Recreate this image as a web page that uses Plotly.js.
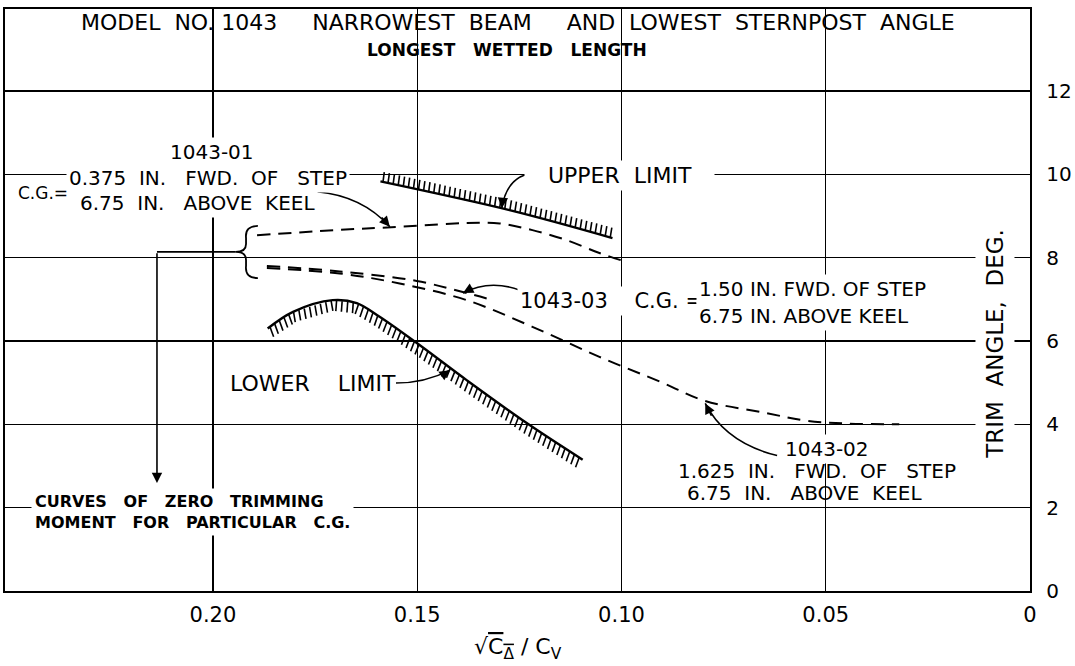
<!DOCTYPE html>
<html><head><meta charset="utf-8">
<script src="https://cdn.plot.ly/plotly-3.0.1.min.js"></script>
<style>html,body{margin:0;padding:0;background:#fff;}</style>
</head><body>
<div id="chart" style="width:1075px;height:666px;"></div>
<script>
// ---------- data ----------
const xTickVals = [0.20, 0.15, 0.10, 0.05, 0];
const xTickText = ['0.20', '0.15', '0.10', '0.05', '0'];
const yTickVals = [0, 2, 4, 6, 8, 10, 12];
const yTickText = ['0', '2', '4', '6', '8', '10', '12'];

// Curves of zero trimming moment (sqrt(C_delta)/C_V vs trim angle, deg)
const cg01X = [0.1892, 0.1700, 0.1543, 0.1379, 0.1298, 0.1218, 0.1134, 0.1054, 0.0995];
const cg01Y = [8.54, 8.66, 8.74, 8.83, 8.82, 8.66, 8.42, 8.11, 7.92];

const cg03X = [0.1868, 0.1690, 0.1501, 0.1379, 0.1330];
const cg03Y = [7.80, 7.67, 7.44, 7.15, 7.02];

const cg02X = [0.1868, 0.1690, 0.1543, 0.1379, 0.1218, 0.1054, 0.0900, 0.0795, 0.0650, 0.0550, 0.0450, 0.0320];
const cg02Y = [7.75, 7.62, 7.38, 6.98, 6.34, 5.62, 5.00, 4.56, 4.28, 4.09, 4.02, 4.00];

// Porpoising limits
const upperX = [0.1590, 0.1274, 0.1022];
const upperY = [9.83, 9.14, 8.47];

const lowerX = [0.1866, 0.1804, 0.1707, 0.1648, 0.1592, 0.1501, 0.1379, 0.1232, 0.1095];
const lowerY = [6.30, 6.70, 6.98, 6.91, 6.58, 5.95, 5.06, 4.03, 3.15];

// ---------- layout constants ----------
const XR = [0.2509, 0];
const YR = [0, 13.967];
const PW = 1025, PH = 582;
const F = 'DejaVu Sans, sans-serif';
const sp = s => s.replace(/ /g, '\u00a0');

// hatch ticks along a boundary line (side: 'up' or 'down')
function hatch(xs, ys, side, len, step) {
  const sx = PW / (XR[0] - XR[1]);
  const sy = PH / (YR[1] - YR[0]);
  const P = xs.map((x, i) => [(XR[0] - x) * sx, (YR[1] - ys[i]) * sy]);
  const hx = [], hy = [];
  let carry = step / 2;
  for (let i = 0; i < P.length - 1; i++) {
    const [x0, y0] = P[i], [x1, y1] = P[i + 1];
    const dx = x1 - x0, dy = y1 - y0, L = Math.hypot(dx, dy);
    const tx = dx / L, ty = dy / L;
    let nx = ty, ny = -tx;
    if ((side === 'up' && ny > 0) || (side === 'down' && ny < 0)) { nx = -nx; ny = -ny; }
    const vy = side === 'up' ? -1 : 1;
    let bx = nx * 0.6, by = ny * 0.6 + vy * 0.4;
    const bl = Math.hypot(bx, by); bx /= bl; by /= bl;
    let s = carry;
    while (s <= L) {
      const px = x0 + tx * s, py = y0 + ty * s;
      const qx = px + bx * len, qy = py + by * len;
      hx.push(XR[0] - px / sx, XR[0] - qx / sx, null);
      hy.push(YR[1] - py / sy, YR[1] - qy / sy, null);
      s += step;
    }
    carry = s - L;
  }
  return { hx, hy };
}

const hu = hatch(upperX, upperY, 'up', 10, 5.2);
const hl = hatch(lowerX, lowerY, 'down', 10.5, 5.6);

const dashLine = { color: '#000', width: 2, dash: '13px,8px', shape: 'spline' };
const traces = [
  { x: cg01X, y: cg01Y, mode: 'lines', line: dashLine, hoverinfo: 'skip' },
  { x: cg03X, y: cg03Y, mode: 'lines', line: dashLine, hoverinfo: 'skip' },
  { x: cg02X, y: cg02Y, mode: 'lines', line: dashLine, hoverinfo: 'skip' },
  { x: upperX, y: upperY, mode: 'lines', line: { color: '#000', width: 2.4, shape: 'spline' }, hoverinfo: 'skip' },
  { x: hu.hx, y: hu.hy, mode: 'lines', line: { color: '#000', width: 1.6 }, connectgaps: false, hoverinfo: 'skip' },
  { x: lowerX, y: lowerY, mode: 'lines', line: { color: '#000', width: 2.4, shape: 'spline' }, hoverinfo: 'skip' },
  { x: hl.hx, y: hl.hy, mode: 'lines', line: { color: '#000', width: 1.6 }, connectgaps: false, hoverinfo: 'skip' }
];

function txt(x, y, text, size, opts) {
  return Object.assign({
    x: x, y: y, xref: 'x', yref: 'y', text: sp(text), showarrow: false,
    font: { family: F, size: size, color: '#000' },
    xanchor: 'center', yanchor: 'middle'
  }, opts || {});
}
function head(x, y, ax, ay) {
  return { x: x, y: y, ax: ax, ay: ay, xref: 'x', yref: 'y', axref: 'x', ayref: 'y',
    text: '', showarrow: true, arrowhead: 2, arrowsize: 1.3, arrowwidth: 1.6, arrowcolor: '#000', standoff: 0, startstandoff: 0 };
}
const W = { bgcolor: '#fff', borderpad: 2 };

const annotations = [
  txt(0.1253, 13.65, 'MODEL  NO. 1043     NARROWEST  BEAM     AND  LOWEST  STERNPOST  ANGLE', 22),
  txt(0.1280, 12.98, 'LONGEST   WETTED   LENGTH', 17, { font: { family: F, size: 17, color: '#000', weight: 'bold' } }),

  txt(0.2002, 10.54, '1043-01', 20, W),
  txt(0.2012, 9.91, '0.375  IN.   FWD.  OF   STEP', 20, W),
  txt(0.2039, 9.31, '6.75  IN.   ABOVE  KEEL', 20, W),
  txt(0.2415, 9.55, 'C.G.=', 17),

  txt(0.1006, 9.96, '   UPPER  LIMIT   ', 22, W),
  txt(0.1755, 4.97, 'LOWER    LIMIT', 22),

  txt(0.1025, 6.96, '1043-03    C.G. =', 21, W),
  txt(0.0818, 7.25, '1.50 IN. FWD. OF STEP', 20, Object.assign({ xanchor: 'left' }, W)),
  txt(0.0818, 6.60, '6.75 IN. ABOVE KEEL', 20, Object.assign({ xanchor: 'left' }, W)),

  txt(0.0497, 3.41, '1043-02', 20, W),
  txt(0.0522, 2.89, '1.625  IN.   FWD.  OF   STEP', 20),
  txt(0.0553, 2.34, '6.75  IN.   ABOVE  KEEL', 20),

  Object.assign(txt(0.2446, 1.90, 'CURVES   OF   ZERO   TRIMMING<br>MOMENT   FOR   PARTICULAR   C.G.', 16,
    { xanchor: 'left', align: 'left', bgcolor: '#fff', borderpad: 3 }),
    { font: { family: F, size: 16, color: '#000', weight: 'bold' } }),

  txt(0.0086, 5.93, 'TRIM  ANGLE,  DEG.', 23, { textangle: -90, bgcolor: '#fff', borderpad: 6 }),

  { x: 0.5, y: -0.098, xref: 'paper', yref: 'paper', showarrow: false,
    text: "\u221a<span style='text-decoration:overline'>C<sub>\u0394</sub></span> / C<sub>V</sub>",
    font: { family: F, size: 22, color: '#000' }, xanchor: 'center', yanchor: 'middle' },

  head(0.1567, 8.74, 0.1590, 9.00),
  head(0.1293, 9.19, 0.1290, 9.45),
  head(0.1388, 7.15, 0.1361, 7.29),
  head(0.1420, 5.30, 0.1445, 5.13),
  head(0.0795, 4.50, 0.0778, 4.17),
  head(0.2137, 2.59, 0.2137, 8.14)
];

const ln = { color: '#000', width: 1.6 };
const shapes = [
  { type: 'path', xref: 'x', yref: 'y', line: ln, path: 'M0.1745,9.58 Q0.1635,9.48 0.1567,8.74' },
  { type: 'path', xref: 'x', yref: 'y', line: ln, path: 'M0.1200,10.03 Q0.1278,10.06 0.1293,9.19' },
  { type: 'path', xref: 'x', yref: 'y', line: ln, path: 'M0.1217,7.08 Q0.1310,7.56 0.1388,7.15' },
  { type: 'path', xref: 'x', yref: 'y', line: ln, path: 'M0.1552,4.99 Q0.1481,4.99 0.1420,5.30' },
  { type: 'path', xref: 'x', yref: 'y', line: ln, path: 'M0.0619,3.25 Q0.0745,3.55 0.0795,4.50' },
  // brace
  { type: 'path', xref: 'x', yref: 'y', line: { color: '#000', width: 1.8 },
    path: 'M0.1890,8.76 Q0.1922,8.76 0.1919,8.47 L0.1919,8.33 Q0.1919,8.14 0.1944,8.14 Q0.1919,8.14 0.1919,7.94 L0.1919,7.80 Q0.1922,7.51 0.1890,7.51' },
  { type: 'line', xref: 'x', yref: 'y', x0: 0.1944, y0: 8.14, x1: 0.2137, y1: 8.14, line: { color: '#000', width: 1.8 } }
];

const axisCommon = {
  showline: true, mirror: true, linecolor: '#000', linewidth: 2.2,
  showgrid: true, gridcolor: '#000', gridwidth: 1.3, zeroline: false,
  ticks: '', tickfont: { family: F, size: 20, color: '#000' }, fixedrange: true
};

const layout = {
  width: 1075, height: 666,
  margin: { l: 5, r: 45, t: 9, b: 75, pad: 0 },
  paper_bgcolor: '#fff', plot_bgcolor: '#fff',
  showlegend: false,
  xaxis: Object.assign({}, axisCommon, {
    range: XR, tickmode: 'array', tickvals: xTickVals, ticktext: xTickText,
    tickfont: { family: F, size: 21, color: '#000' }, ticklabelstandoff: 4
  }),
  yaxis: Object.assign({}, axisCommon, {
    range: YR, side: 'right', tickmode: 'array', tickvals: yTickVals, ticktext: yTickText,
    ticklabelstandoff: 10
  }),
  annotations: annotations,
  shapes: shapes
};

Plotly.newPlot('chart', traces, layout, { staticPlot: true, displayModeBar: false });
</script>
</body></html>
